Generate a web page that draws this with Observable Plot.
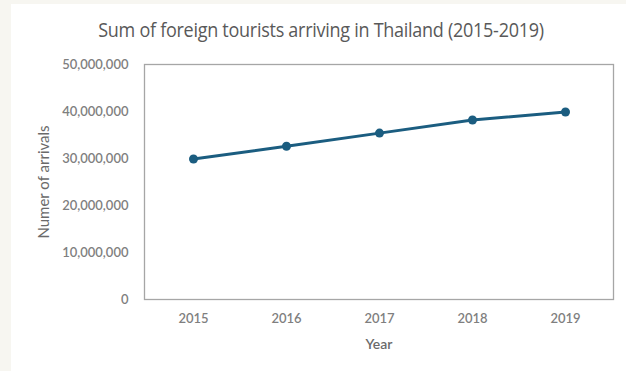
<!DOCTYPE html>
<html>
<head>
<meta charset="utf-8">
<script src="https://cdn.jsdelivr.net/npm/d3@7"></script>
<script src="https://cdn.jsdelivr.net/npm/@observablehq/plot@0.6"></script>
<style>
  html, body { margin: 0; padding: 0; }
  body { width: 626px; height: 371px; background: #f7f6f1; position: relative; overflow: hidden; }
  #panel { position: absolute; left: 11px; top: 4px; right: 0; bottom: 0; background: #ffffff; }
  #title {
    position: absolute; left: 0; width: 642px; top: 16px; text-align: center;
    font-family: "Open Sans", sans-serif; font-size: 20px;
    color: #595959; white-space: nowrap; letter-spacing: -0.3px;
    transform: scaleX(0.9); transform-origin: 321px 0;
  }
  #chart { position: absolute; left: 0; top: 0; }
</style>
</head>
<body>
<div id="panel"></div>
<div id="title">Sum of foreign tourists arriving in Thailand (2015-2019)</div>
<div id="chart"></div>
<script>
// Foreign tourist arrivals in Thailand per year
const years = ["2015", "2016", "2017", "2018", "2019"];
const arrivals = [29900000, 32600000, 35400000, 38200000, 39900000];
const yTicks = [0, 10000000, 20000000, 30000000, 40000000, 50000000];

const rows = years.map((year, i) => ({year, value: arrivals[i]}));

const lineColor = "#1b5d80";
const tickColor = "#7f7f7f";
const labelColor = "#6a6a6a";
const font = "Lato, 'Open Sans', sans-serif";

const chart = Plot.plot({
  width: 626,
  height: 371,
  marginLeft: 144,
  marginRight: 13,
  marginTop: 64,
  marginBottom: 72,
  style: {background: "transparent", fontFamily: font, fontSize: "13px", color: tickColor},
  x: {type: "point", domain: years, padding: 0.5},
  y: {domain: [0, 50000000]},
  marks: [
    Plot.frame({stroke: "#a6a6a6", strokeWidth: 1.3}),
    Plot.axisY({ticks: yTicks, tickSize: 0, tickPadding: 16, tickFormat: d3.format(","), label: null, fill: tickColor, fontSize: 13, fontWeight: 600}),
    Plot.axisX({tickSize: 0, tickPadding: 14, label: null, fill: tickColor, fontSize: 13, fontWeight: 600}),
    Plot.text(["Numer of arrivals"], {frameAnchor: "left", textAnchor: "middle", dx: -100, rotate: -90, fill: labelColor, fontSize: 15, text: d => d}),
    Plot.text(["Year"], {frameAnchor: "bottom", dy: 49, fill: labelColor, fontSize: 14, fontWeight: 600, text: d => d}),
    Plot.line(rows, {x: "year", y: "value", stroke: lineColor, strokeWidth: 3}),
    Plot.dot(rows, {x: "year", y: "value", fill: lineColor, r: 4.5})
  ]
});
document.getElementById("chart").append(chart);
</script>
</body>
</html>
